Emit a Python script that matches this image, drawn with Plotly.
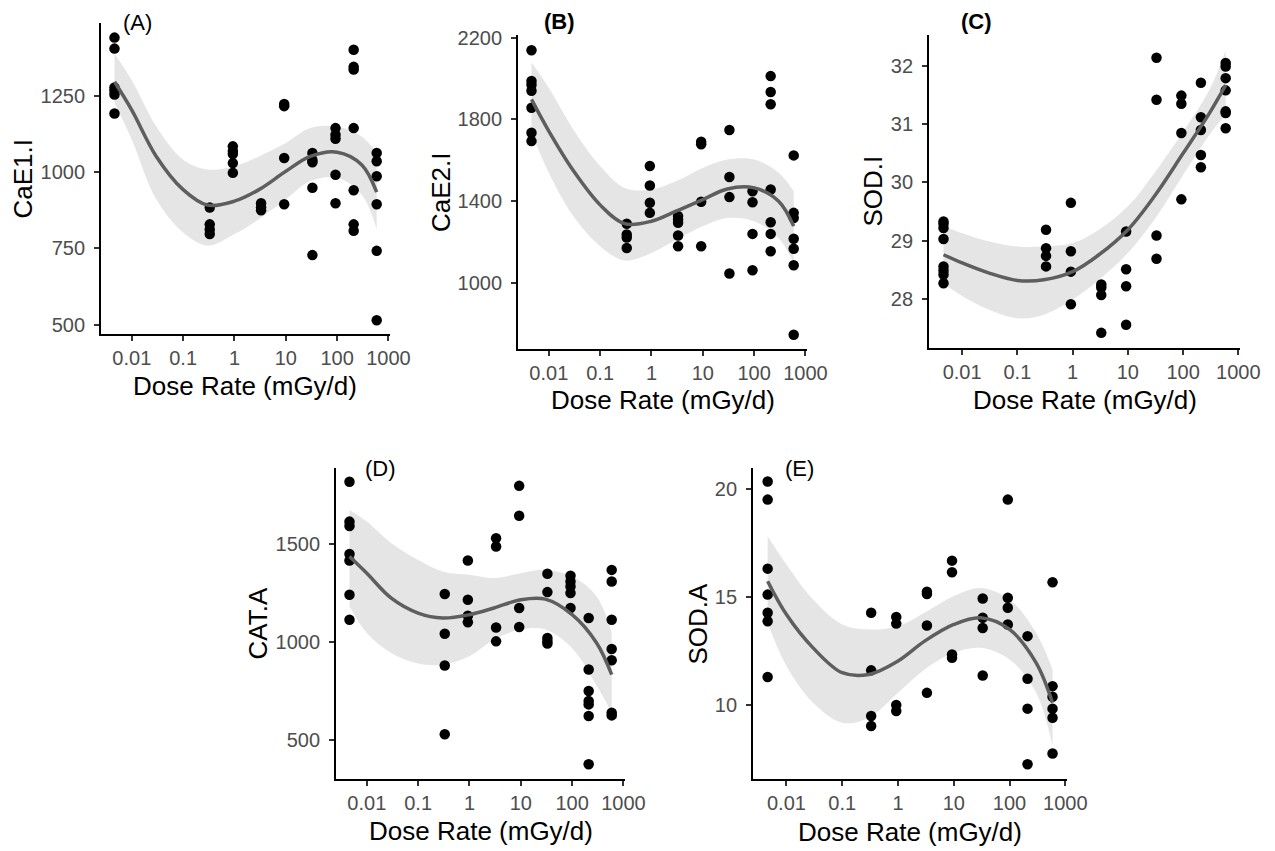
import plotly.graph_objects as go

# ---------------- data ----------------
doses = [0.0046, 0.33, 0.93, 3.3, 9.3, 33, 93, 210, 590]

caE1_I = [
    [1442, 1406, 1278, 1268, 1255, 1193],
    [884, 829, 812, 797],
    [1085, 1070, 1060, 1030, 998],
    [898, 885, 875],
    [1224, 1217, 1047, 895],
    [1063, 1040, 1033, 949, 728],
    [1145, 1123, 1110, 992, 898],
    [1402, 1346, 1337, 1145, 941, 829, 808],
    [1063, 1036, 987, 895, 742, 514],
]
caE2_I = [
    [2138, 1988, 1970, 1940, 1857, 1735, 1694],
    [1290, 1237, 1222, 1171],
    [1572, 1477, 1392, 1343],
    [1327, 1310, 1294, 1232, 1180],
    [1691, 1678, 1397, 1180],
    [1748, 1518, 1420, 1046],
    [1449, 1395, 1240, 1062],
    [2012, 1934, 1874, 1457, 1297, 1240, 1155],
    [1624, 1343, 1318, 1216, 1167, 1087, 747],
]
sod_I = [
    [29.33, 29.29, 29.22, 29.03, 28.56, 28.49, 28.42, 28.27],
    [29.19, 28.87, 28.74, 28.56],
    [29.65, 28.82, 28.47, 27.91],
    [28.25, 28.2, 28.07, 27.42],
    [29.16, 28.51, 28.22, 27.56],
    [32.14, 31.42, 29.09, 28.69],
    [31.49, 31.35, 30.85, 29.71],
    [31.71, 31.12, 30.90, 30.47, 30.26],
    [32.05, 31.99, 31.79, 31.58, 31.22, 31.19, 30.93],
]
cat_A = [
    [1816, 1613, 1591, 1448, 1415, 1240, 1113],
    [1244, 1042, 880, 530],
    [1415, 1215, 1134, 1100],
    [1528, 1486, 1074, 1003],
    [1795, 1643, 1173, 1076],
    [1347, 1254, 1020, 1005, 992],
    [1337, 1308, 1283, 1249, 1173],
    [1122, 860, 750, 699, 682, 623, 377],
    [1367, 1308, 1113, 964, 907, 640, 626],
]
sod_A = [
    [20.35, 19.51, 16.32, 15.12, 14.28, 13.89, 11.31],
    [14.28, 11.62, 9.51, 9.05],
    [14.09, 13.78, 10.02, 9.74],
    [15.25, 15.15, 13.69, 10.58],
    [16.69, 16.15, 12.35, 12.20],
    [14.94, 14.05, 13.58, 11.38],
    [19.51, 14.97, 14.51, 13.74],
    [13.20, 11.23, 9.85, 7.28],
    [15.69, 10.89, 10.40, 9.85, 9.43, 7.78],
]

# fitted smooth: x grid, mean, lower, upper
curve_x = [0.0046, 0.01, 0.03, 0.1, 0.3, 1, 3, 10, 30, 100, 300, 590]

caE1_mean = [1297, 1204, 1052, 943, 892, 905, 943, 1003, 1052, 1066, 1025, 935]
caE1_lo = [1228, 1107, 911, 802, 759, 797, 846, 911, 971, 982, 927, 813]
caE1_hi = [1389, 1302, 1150, 1041, 1009, 1020, 1052, 1096, 1145, 1150, 1117, 1063]

caE2_mean = [1898, 1743, 1550, 1382, 1290, 1302, 1351, 1408, 1460, 1465, 1400, 1278]
caE2_lo = [1735, 1539, 1327, 1180, 1110, 1147, 1212, 1278, 1318, 1302, 1220, 1098]
caE2_hi = [2078, 1955, 1751, 1572, 1465, 1457, 1498, 1563, 1604, 1604, 1539, 1449]

sodI_mean = [28.76, 28.62, 28.45, 28.32, 28.33, 28.47, 28.76, 29.19, 29.76, 30.50, 31.19, 31.67]
sodI_lo = [28.27, 28.05, 27.82, 27.67, 27.73, 27.99, 28.33, 28.79, 29.36, 30.13, 30.82, 31.16]
sodI_hi = [29.25, 29.13, 28.99, 28.90, 28.90, 28.96, 29.19, 29.59, 30.16, 30.87, 31.59, 32.27]

catA_mean = [1435, 1350, 1223, 1147, 1122, 1139, 1173, 1215, 1218, 1139, 995, 834]
catA_lo = [1181, 1046, 944, 890, 885, 927, 1012, 1063, 1063, 968, 778, 640]
catA_hi = [1672, 1613, 1503, 1418, 1359, 1342, 1325, 1350, 1367, 1333, 1232, 1046]

sodA_mean = [15.74, 14.20, 12.66, 11.51, 11.43, 12.05, 12.97, 13.74, 14.05, 13.51, 11.97, 10.12]
sodA_lo = [13.82, 11.82, 10.12, 9.20, 9.43, 10.58, 11.66, 12.43, 12.66, 12.12, 10.58, 8.12]
sodA_hi = [17.82, 16.51, 14.89, 13.74, 13.51, 13.66, 14.28, 15.05, 15.43, 14.89, 13.35, 11.66]

x_tickvals = [0.01, 0.1, 1, 10, 100, 1000]
x_ticktext = ["0.01", "0.1", "1", "10", "100", "1000"]

x_title = "Dose Rate (mGy/d)"

# ---------------- layout helpers (pixel geometry) ----------------
W, H = 1275, 851
FONT = "Liberation Sans, Arial, sans-serif"


def px(x):
    return x / W


def py(y):
    return 1 - y / H


panels = [
    dict(lab="(A)", yt="CaE1.I", pts=caE1_I, m=caE1_mean, lo=caE1_lo, hi=caE1_hi,
         xd=(101, 390), yd=(23, 334), yr=[469, 1490], yticks=[500, 750, 1000, 1250],
         ytx=22, labxy=(137, 23), xty=386, bold=False),
    dict(lab="(B)", yt="CaE2.I", pts=caE2_I, m=caE2_mean, lo=caE2_lo, hi=caE2_hi,
         xd=(518, 807), yd=(35, 349), yr=[677, 2213], yticks=[1000, 1400, 1800, 2200],
         ytx=441, labxy=(559, 22), xty=400, bold=True),
    dict(lab="(C)", yt="SOD.I", pts=sod_I, m=sodI_mean, lo=sodI_lo, hi=sodI_hi,
         xd=(929, 1240), yd=(35, 348), yr=[27.16, 32.53], yticks=[28, 29, 30, 31, 32],
         ytx=872, labxy=(976, 22), xty=400, bold=True),
    dict(lab="(D)", yt="CAT.A", pts=cat_A, m=catA_mean, lo=catA_lo, hi=catA_hi,
         xd=(336, 625), yd=(468, 779), yr=[302, 1886], yticks=[500, 1000, 1500],
         ytx=257, labxy=(380, 468), xty=831, bold=False),
    dict(lab="(E)", yt="SOD.A", pts=sod_A, m=sodA_mean, lo=sodA_lo, hi=sodA_hi,
         xd=(753, 1067), yd=(468, 779), yr=[6.6, 20.97], yticks=[10, 15, 20],
         ytx=697, labxy=(799, 468), xty=832, bold=False),
]

fig = go.Figure()
annotations = []
layout_axes = {}

for i, p in enumerate(panels):
    k = "" if i == 0 else str(i + 1)
    xa, ya = "x" + k, "y" + k

    # confidence band
    fig.add_trace(go.Scatter(x=curve_x, y=p["hi"], xaxis=xa, yaxis=ya, mode="lines",
                             line=dict(width=0, shape="spline", color="rgba(0,0,0,0)"),
                             hoverinfo="skip", showlegend=False))
    fig.add_trace(go.Scatter(x=curve_x, y=p["lo"], xaxis=xa, yaxis=ya, mode="lines",
                             line=dict(width=0, shape="spline", color="rgba(0,0,0,0)"),
                             fill="tonexty", fillcolor="#e5e5e5",
                             hoverinfo="skip", showlegend=False))
    # points
    xs, ys = [], []
    for d, vals in zip(doses, p["pts"]):
        for v in vals:
            xs.append(d)
            ys.append(v)
    fig.add_trace(go.Scatter(x=xs, y=ys, xaxis=xa, yaxis=ya, mode="markers",
                             marker=dict(size=10.5, color="black"), showlegend=False))
    # fitted line
    fig.add_trace(go.Scatter(x=curve_x, y=p["m"], xaxis=xa, yaxis=ya, mode="lines",
                             line=dict(width=3.5, shape="spline", color="#5e5e5e"),
                             showlegend=False))

    x0, x1 = p["xd"]
    yt0, yb0 = p["yd"]
    common = dict(showgrid=False, zeroline=False, showline=True, linecolor="black",
                  linewidth=1.8, ticks="outside", ticklen=5, tickwidth=1.5,
                  tickcolor="#333333", automargin=False,
                  tickfont=dict(family=FONT, size=20, color="#4d4d4d"))
    layout_axes["xaxis" + k] = dict(
        domain=[px(x0), px(x1)], anchor=ya, type="log", range=[-2.6, 3.03],
        tickvals=x_tickvals, ticktext=x_ticktext, ticklabelstandoff=0, **common)
    layout_axes["yaxis" + k] = dict(
        domain=[py(yb0), py(yt0)], anchor=xa, range=p["yr"], tickvals=p["yticks"],
        ticklabelstandoff=5, **common)

    # y title
    annotations.append(dict(text=p["yt"], xref="paper", yref="paper", x=px(p["ytx"]),
                            y=py((yt0 + yb0) / 2), textangle=-90, showarrow=False,
                            xanchor="center", yanchor="middle",
                            font=dict(family=FONT, size=26, color="black")))
    # x title
    annotations.append(dict(text=x_title, xref="paper", yref="paper", x=px((x0 + x1) / 2),
                            y=py(p["xty"]), showarrow=False, xanchor="center", yanchor="middle",
                            font=dict(family=FONT, size=26, color="black")))
    # panel label
    lab = "<b>" + p["lab"] + "</b>" if p["bold"] else p["lab"]
    annotations.append(dict(text=lab, xref="paper", yref="paper", x=px(p["labxy"][0]),
                            y=py(p["labxy"][1]), showarrow=False, xanchor="center",
                            yanchor="middle",
                            font=dict(family=FONT, size=22, color="black")))

fig.update_layout(
    width=W, height=H, margin=dict(l=0, r=0, t=0, b=0),
    paper_bgcolor="white", plot_bgcolor="white", showlegend=False,
    annotations=annotations, **layout_axes,
)

fig.write_html("out.html", config={"displayModeBar": False},
               post_script="document.body.style.margin='0';document.body.style.padding='0';")
